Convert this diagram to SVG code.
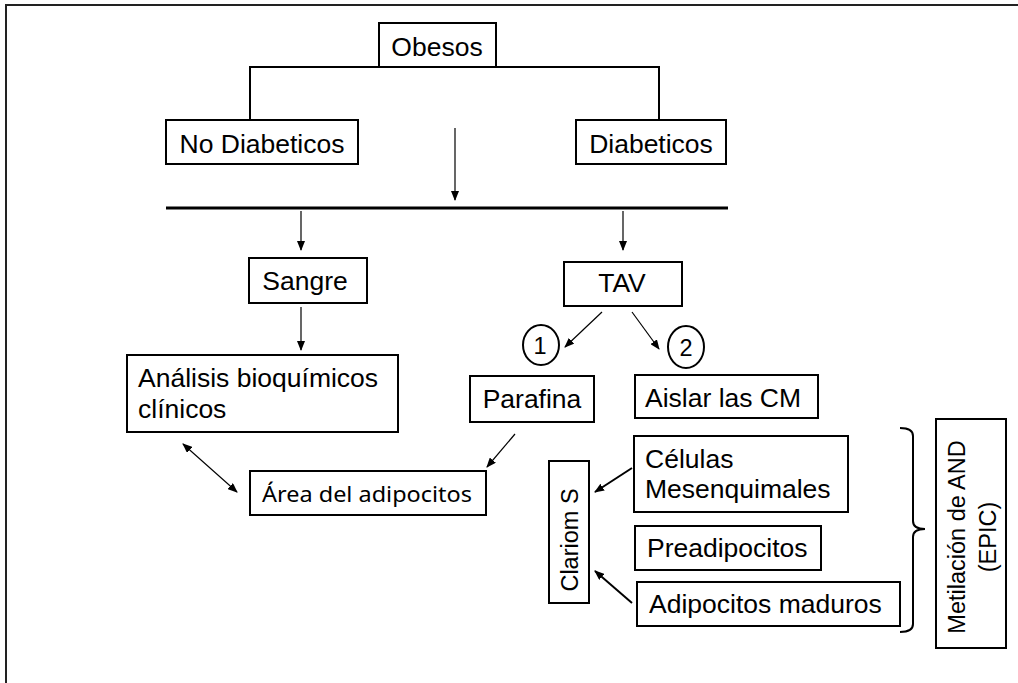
<svg xmlns="http://www.w3.org/2000/svg" width="1018" height="683" viewBox="0 0 1018 683">
<style>
.box{fill:#fff;stroke:#000;stroke-width:2}
.t{font-family:"Liberation Sans",Arial,sans-serif;font-size:26.5px;fill:#000}
.s{font-size:23.5px}
.c{text-anchor:middle}
.lnb{fill:none;stroke:#000;stroke-width:2}
.arr{fill:none;stroke:#000;stroke-width:1.2;marker-end:url(#ah)}
.arrb{fill:none;stroke:#000;stroke-width:2;marker-end:url(#ah)}
</style>
<defs>
<marker id="ah" markerUnits="userSpaceOnUse" viewBox="0 0 10 8" refX="9" refY="4" markerWidth="10" markerHeight="8" orient="auto-start-reverse">
<path d="M0,0 L10,4 L0,8 z" fill="#000"/>
</marker>
</defs>
<rect x="6" y="5" width="1030" height="700" fill="none" stroke="#222" stroke-width="2"/>

<g id="connectors">
<path class="lnb" d="M250,120 V67 H659 V120"/>
<path class="arr" d="M455,128 V200"/>
<path d="M166,208 H728" stroke="#000" stroke-width="3" fill="none"/>
<path class="arr" d="M301,211 V250"/>
<path class="arr" d="M623,211 V250"/>
<path class="arr" d="M301,307 V350"/>
<path class="arr" d="M602,312 L565,347"/>
<path class="arr" d="M632,312 L659,349"/>
<path class="arr" d="M515,434 L487,467"/>
<path class="arr" d="M183,444 L237,492" style="marker-start:url(#ah)"/>
<path class="arrb" d="M632,468 L595,492"/>
<path class="arrb" d="M632,603 L595,571"/>
<path class="lnb" d="M900,428 Q913,428 913,436 V521 Q913,529 925,529 Q913,529 913,537 V624 Q913,632 900,632"/>
</g>

<g id="obesos"><rect class="box" x="379" y="23" width="117" height="44"/><text class="t c" x="437" y="56">Obesos</text></g>
<g id="no-diabeticos"><rect class="box" x="166" y="120" width="192" height="44"/><text class="t c" x="262" y="153">No Diabeticos</text></g>
<g id="diabeticos"><rect class="box" x="576" y="120" width="150" height="44"/><text class="t c" x="651" y="153">Diabeticos</text></g>
<g id="sangre"><rect class="box" x="249" y="258" width="118" height="45"/><text class="t c" x="305" y="290">Sangre</text></g>
<g id="tav"><rect class="box" x="564" y="262" width="118" height="44"/><text class="t c" x="622" y="292">TAV</text></g>
<g id="analisis"><rect class="box" x="127" y="355" width="271" height="77"/><text class="t" x="138" y="387">Análisis bioquímicos</text><text class="t" x="138" y="418">clínicos</text></g>
<g id="c1"><ellipse cx="541" cy="345" rx="18" ry="20" fill="#fff" stroke="#000" stroke-width="2"/><text class="t s c" x="540" y="354">1</text></g>
<g id="c2"><ellipse cx="686" cy="347" rx="18" ry="21" fill="#fff" stroke="#000" stroke-width="2"/><text class="t s c" x="686" y="356">2</text></g>
<g id="parafina"><rect class="box" x="470" y="376" width="124" height="46"/><text class="t c" x="532" y="408">Parafina</text></g>
<g id="aislar"><rect class="box" x="635" y="375" width="183" height="43"/><text class="t" x="645" y="407">Aislar las CM</text></g>
<g id="area"><rect class="box" x="250" y="471" width="236" height="44"/><text x="262" y="502" font-family="'Noto Sans','Open Sans',sans-serif" font-size="22" textLength="210" lengthAdjust="spacingAndGlyphs">Área del adipocitos</text></g>
<g id="celulas"><rect class="box" x="634" y="436" width="214" height="76"/><text class="t" x="645" y="468">Células</text><text class="t" x="645" y="498">Mesenquimales</text></g>
<g id="preadipocitos"><rect class="box" x="635" y="526" width="186" height="44"/><text class="t" x="647" y="557">Preadipocitos</text></g>
<g id="adipocitos"><rect class="box" x="637" y="582" width="263" height="44"/><text class="t" x="649" y="613">Adipocitos maduros</text></g>
<g id="clariom"><rect class="box" x="549" y="461" width="40" height="142"/><text class="t s c" transform="translate(578,540) rotate(-90)" x="0" y="0">Clariom S</text></g>
<g id="metilacion"><rect class="box" x="936" y="419" width="70" height="229"/><text class="t s c" transform="translate(965,537) rotate(-90)" x="0" y="0">Metilación de AND</text><text class="t s c" transform="translate(996,537) rotate(-90)" x="0" y="0">(EPIC)</text></g>
</svg>
